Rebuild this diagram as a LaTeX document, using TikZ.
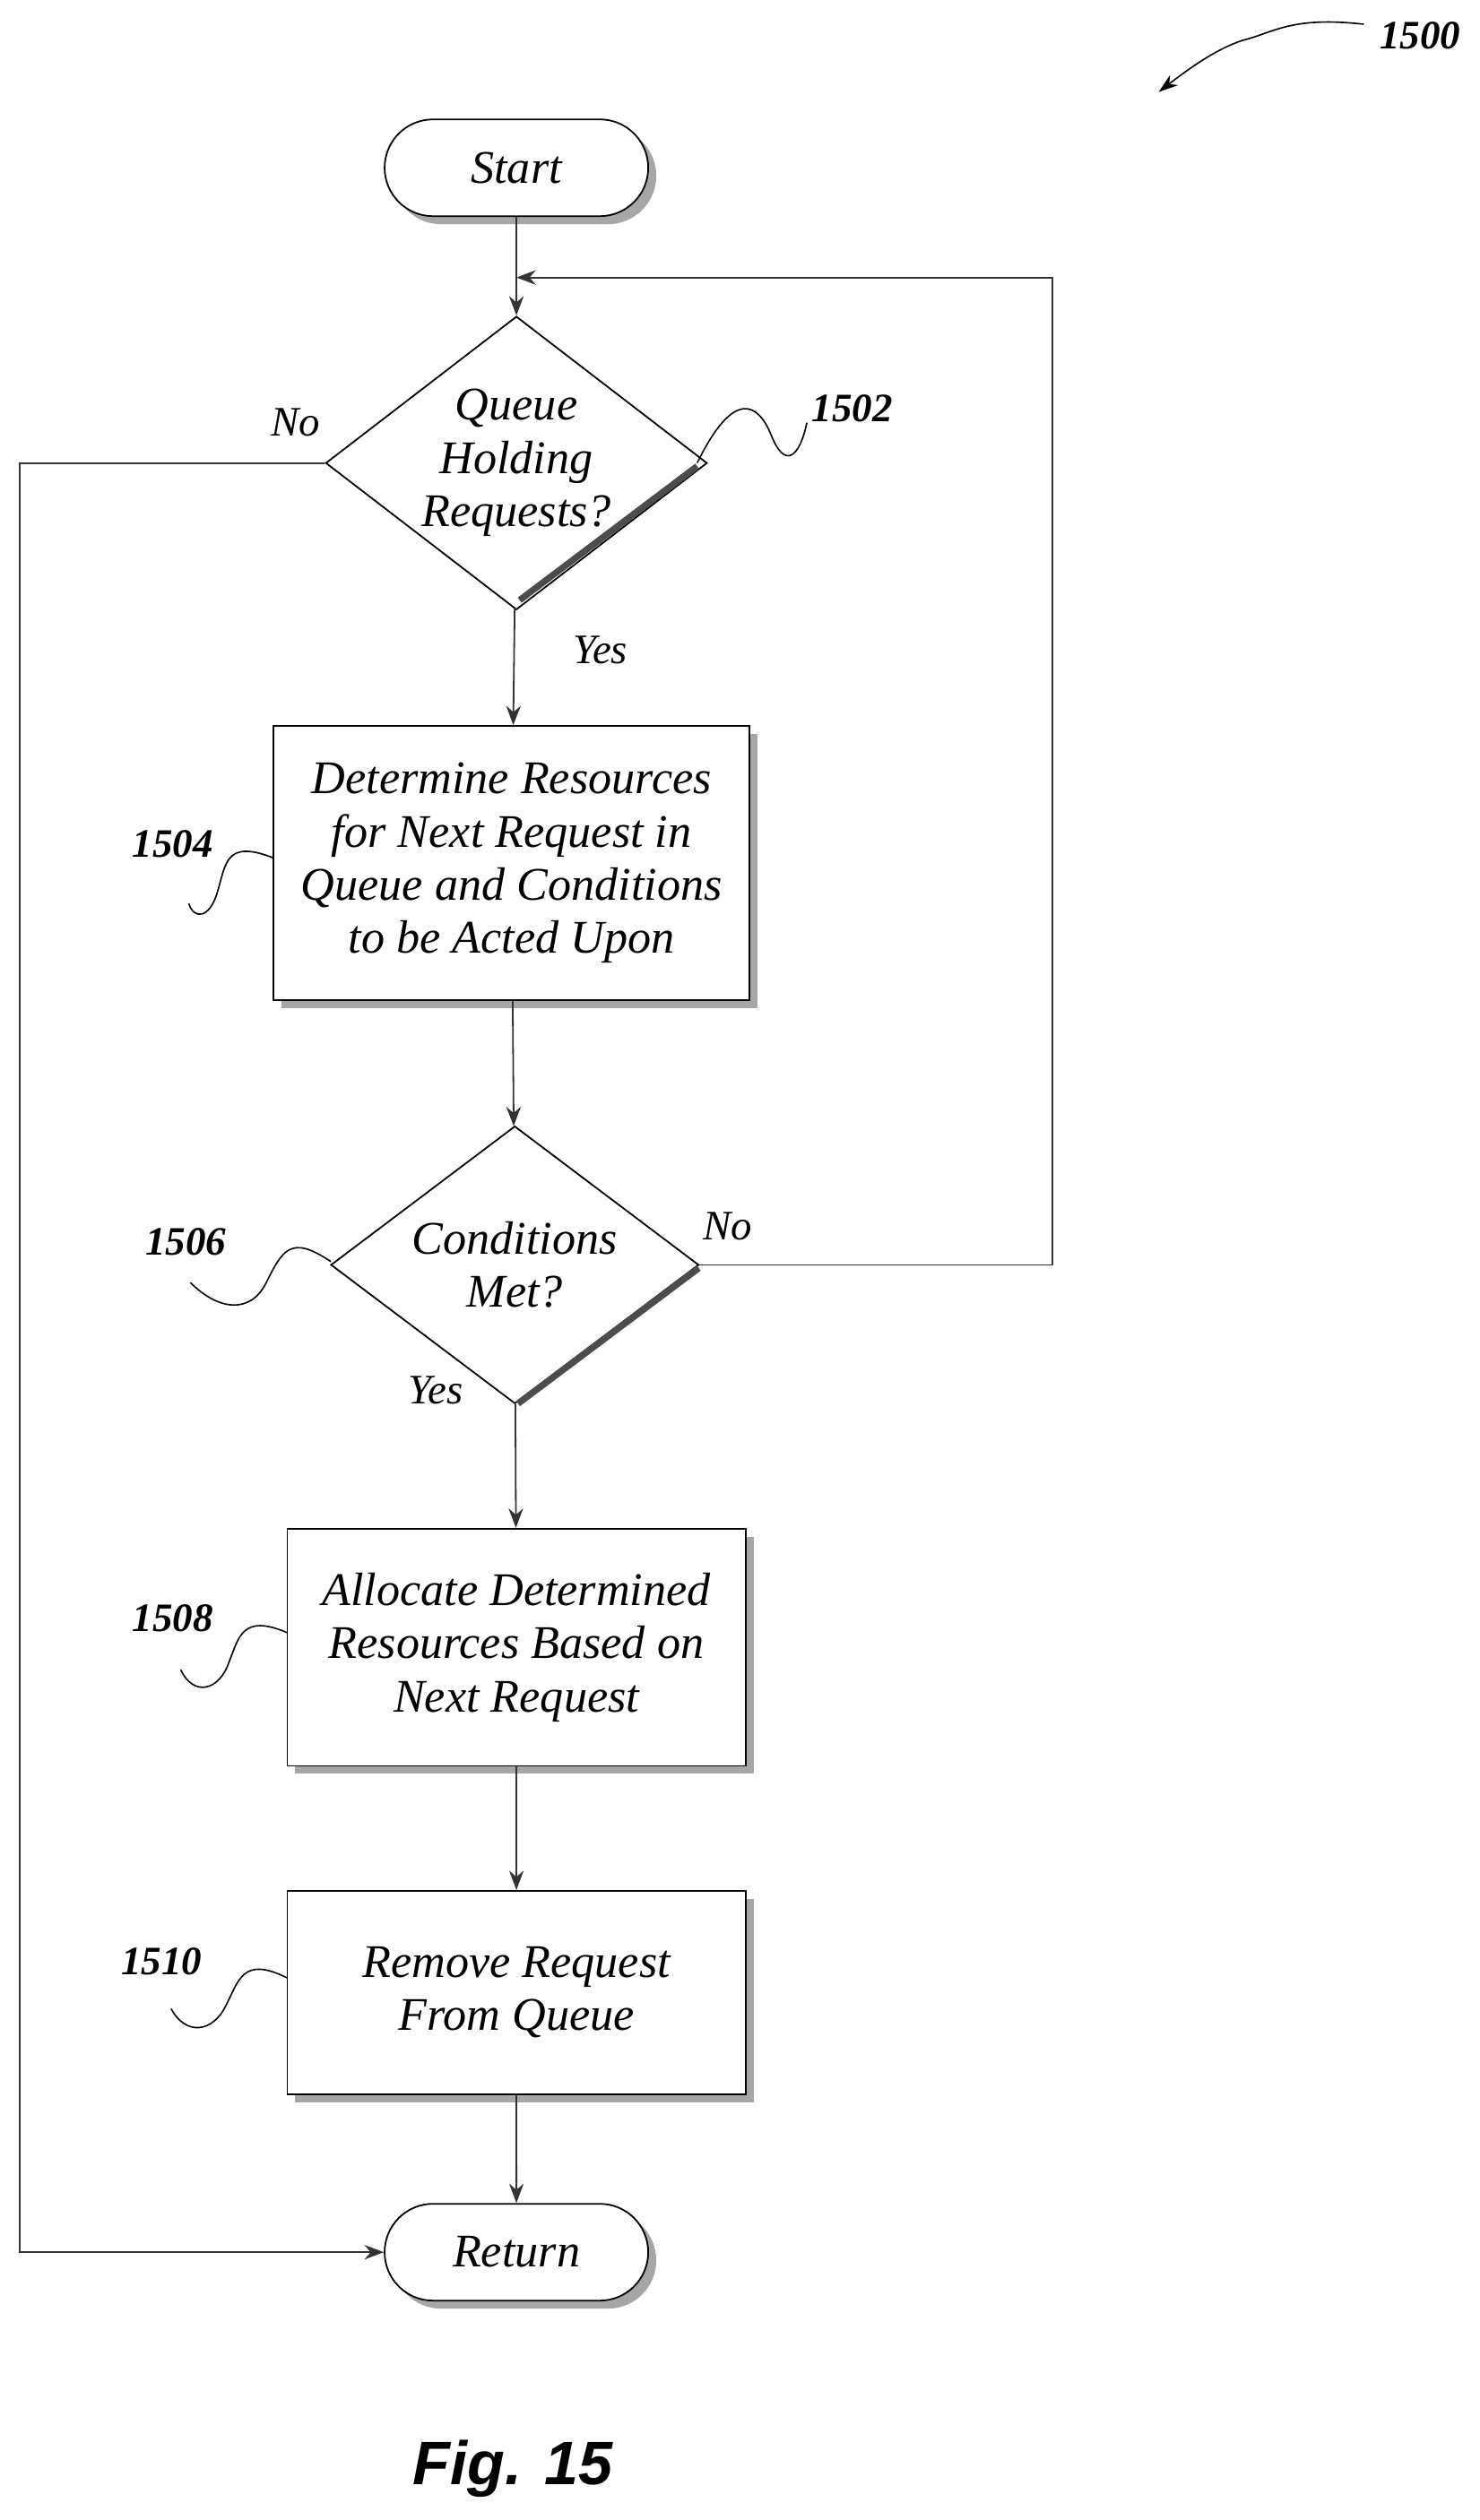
\documentclass[tikz,border=0pt]{standalone}
\usepackage{fontspec}
\setmainfont{Liberation Serif}
\setsansfont{Liberation Sans}
\usetikzlibrary{shapes.geometric,shapes.misc,shadows,arrows.meta,positioning}

\tikzset{
  txt/.style={font=\fontsize{29}{33}\selectfont\itshape, align=center},
  term/.style={txt, draw, line width=1pt, rounded rectangle, minimum width=170pt, minimum height=60pt, fill=white,
    drop shadow={shadow xshift=5pt, shadow yshift=-5pt, fill=gray!70, opacity=1}},
  proc/.style={txt, draw, line width=1pt, fill=white,
    drop shadow={shadow xshift=5pt, shadow yshift=-5pt, fill=gray!70, opacity=1}},
  dec/.style={txt, draw, line width=1pt, diamond, aspect=1.3, inner sep=0pt, fill=white},
  flow/.style={line width=1pt, gray!40!black, -{Stealth[length=12pt,width=9pt]}},
  lbl/.style={font=\fontsize{26}{30}\selectfont\itshape},
  tag/.style={font=\fontsize{25}{29}\selectfont\itshape\bfseries},
  squig/.style={line width=0.9pt}
}

\begin{document}
\begin{tikzpicture}[x=1pt,y=-1pt]
\useasboundingbox (0,0) rectangle (917,1562);

% nodes
\node[term] (start) at (320,104) {Start};
\node[dec, minimum width=224pt, minimum height=169pt] (q) at (320,287) {Queue\\Holding\\Requests?};
\draw[line width=4pt, gray!60!black] (432,289) -- (322,372);
\node[proc, minimum width=295pt, minimum height=170pt] (det) at (317,535)
  {Determine Resources\\for Next Request in\\Queue and Conditions\\to be Acted Upon};
\node[dec, minimum width=228pt, minimum height=172pt] (c) at (319,784) {Conditions\\Met?};
\draw[line width=4pt, gray!60!black] (433,786) -- (321,870);
\node[proc, minimum width=284pt, minimum height=147pt] (alloc) at (320,1021)
  {Allocate Determined\\Resources Based on\\Next Request};
\node[proc, minimum width=284pt, minimum height=126pt] (rem) at (320,1235)
  {Remove Request\\From Queue};
\node[term] (ret) at (320,1396) {Return};

% connectors
\coordinate (loopin) at (320,172);
\draw[flow] (start) -- (q);
\draw[flow] (q) -- (det);
\draw[flow] (det) -- (c);
\draw[flow] (c) -- (alloc);
\draw[flow] (alloc) -- (rem);
\draw[flow] (rem) -- (ret);
\draw[flow] (c.east) -| (652,172) -- (loopin);
\draw[flow] (q.west) -| (12,1396) -- (ret.west);

% branch labels
\node[lbl] at (183,262) {No};
\node[lbl] at (372,403) {Yes};
\node[lbl] at (451,760) {No};
\node[lbl] at (270,862) {Yes};

% reference numerals
\node[tag] (n1502) at (528,253) {1502};
\draw[squig] (432,287) .. controls (455,240) and (470,250) .. (478,270) .. controls (486,290) and (495,285) .. (500,262);
\node[tag] (n1504) at (107,523) {1504};
\draw[squig] (170,532) .. controls (140,520) and (140,535) .. (135,552) .. controls (130,570) and (120,570) .. (117,560);
\node[tag] (n1506) at (115,770) {1506};
\draw[squig] (205,782) .. controls (180,765) and (175,775) .. (165,795) .. controls (155,815) and (135,812) .. (118,795);
\node[tag] (n1508) at (107,1003) {1508};
\draw[squig] (178,1012) .. controls (150,1000) and (148,1015) .. (142,1030) .. controls (136,1048) and (120,1052) .. (112,1035);
\node[tag] (n1510) at (100,1216) {1510};
\draw[squig] (178,1226) .. controls (150,1212) and (148,1228) .. (140,1243) .. controls (132,1260) and (115,1262) .. (106,1245);
\node[tag] (n1500) at (880,22) {1500};
\draw[squig, -{Stealth[length=12pt,width=8pt]}] (845,15) .. controls (800,10) and (790,20) .. (770,25) .. controls (755,30) and (740,40) .. (718,57);

\node[font=\sffamily\bfseries\itshape\fontsize{38}{44}\selectfont] (fig) at (318,1530) {Fig. 15};
\end{tikzpicture}
\end{document}
